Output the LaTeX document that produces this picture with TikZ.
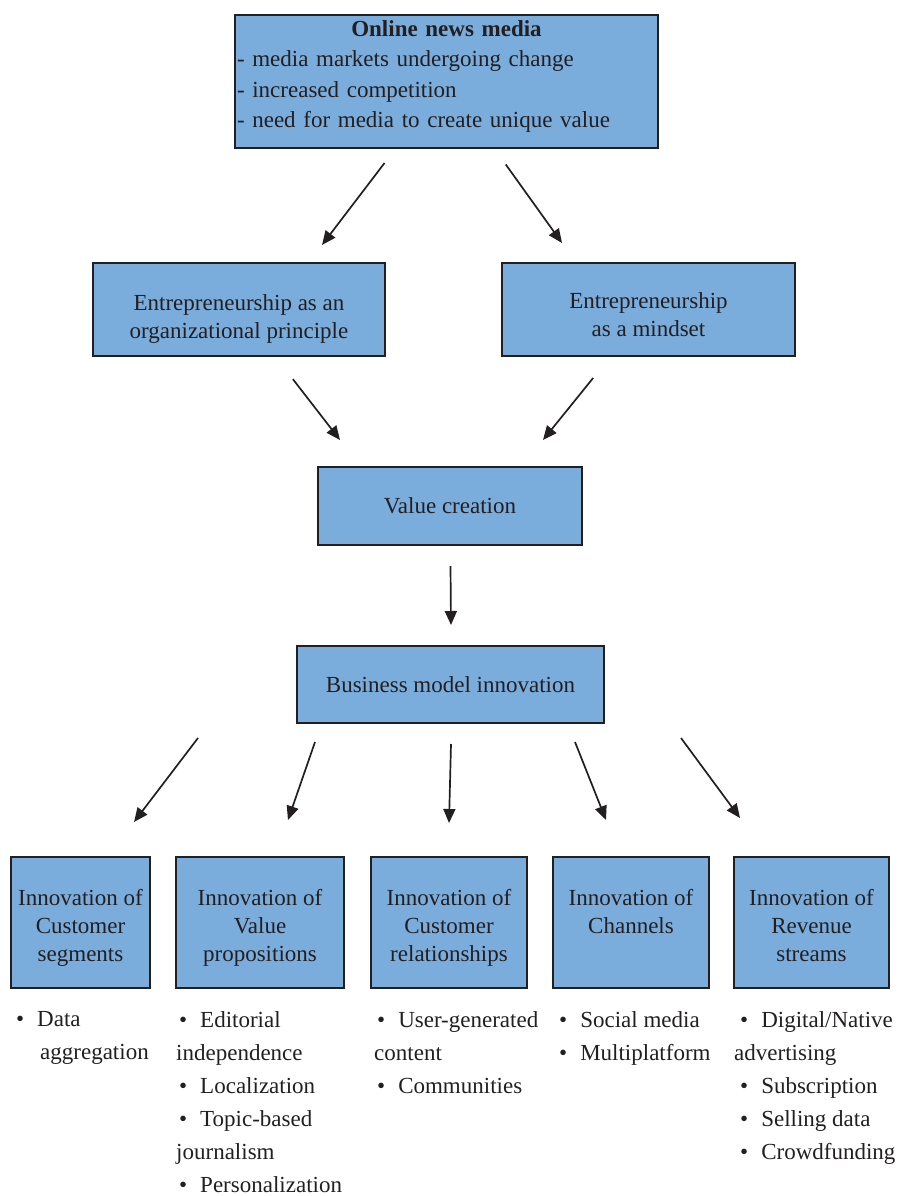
\documentclass[tikz,border=0pt]{standalone}
\usepackage{fontspec}
\setmainfont{Liberation Serif}
\usetikzlibrary{arrows.meta}
\definecolor{boxblue}{RGB}{122,172,220}
\definecolor{ink}{RGB}{35,31,32}
\newcommand{\bul}{\hspace*{3pt}\textbullet\hspace{13pt}}
\newcommand{\lift}[1]{\rule{0pt}{#1}}

\begin{document}
\begin{tikzpicture}[x=1pt,y=-1pt,
    box/.style={draw=ink,line width=2pt,fill=boxblue,text=ink,align=center,
      inner sep=0pt,font=\fontsize{23}{28}\selectfont},
    arr/.style={draw=ink,line width=1.7pt,-{Triangle[length=14pt,width=12pt]}},
    lst/.style={anchor=north west,align=left,inner sep=0pt,text=ink,
      font=\fontsize{23}{33}\selectfont}]
  \useasboundingbox (0,0) rectangle (900,1196);

  \node[box,minimum width=423pt,minimum height=133pt,text width=419pt,align=left,
    font=\fontsize{23}{30.5}\selectfont] (onm) at (446.5,81.5)
    {\hfill\textbf{Online news media}\hfill\null\\- media markets undergoing change\\- increased competition\\- need for media to create unique value\rule[-15pt]{0pt}{15pt}};

  \node[box,minimum width=292pt,minimum height=93pt] (ent1) at (239,309.5)
    {\lift{34pt}Entrepreneurship as an\\organizational principle};
  \node[box,minimum width=293pt,minimum height=93pt] (ent2) at (648.5,309.5)
    {\lift{27pt}Entrepreneurship\\as a mindset};
  \node[box,minimum width=264pt,minimum height=78pt] (vc) at (450,506) {Value creation};
  \node[box,minimum width=307pt,minimum height=77pt] (bmi) at (450.5,684.5) {Business model innovation};

  \node[box,minimum width=139pt,minimum height=131pt] (cs) at (80.5,922.5)
    {\lift{26pt}Innovation of\\Customer\\segments};
  \node[box,minimum width=168pt,minimum height=131pt] (vp) at (260,922.5)
    {\lift{26pt}Innovation of\\Value\\propositions};
  \node[box,minimum width=156pt,minimum height=131pt] (cr) at (449,922.5)
    {\lift{26pt}Innovation of\\Customer\\relationships};
  \node[box,minimum width=156pt,minimum height=131pt] (ch) at (631,922.5)
    {\lift{22pt}Innovation of\\Channels\\~};
  \node[box,minimum width=155pt,minimum height=131pt] (rs) at (811.5,922.5)
    {\lift{22pt}Innovation of\\Revenue\\streams};

  % lists under the boxes
  \node[lst] (lcs) at (13,1011.5) {\bul Data\\\hspace*{27pt}aggregation};
  \node[lst] (lvp) at (176,1011.5)
    {\bul Editorial\\independence\\\bul Localization\\\bul Topic-based\\journalism\\\bul Personalization};
  \node[lst] (lcr) at (374,1011.5) {\bul User-generated\\content\\\bul Communities};
  \node[lst] (lch) at (556,1011.5) {\bul Social media\\\bul Multiplatform};
  \node[lst] (lrs) at (734,1011.5)
    {\hspace*{3pt}\bul Digital/Native\\advertising\\\hspace*{3pt}\bul Subscription\\\hspace*{3pt}\bul Selling data\\\hspace*{3pt}\bul Crowdfunding};

  % arrows
  \coordinate (t1) at (322,245);
  \coordinate (t2) at (562,243);
  \coordinate (t3) at (340,440);
  \coordinate (t4) at (543,440);
  \coordinate (t5) at (451,625);
  \draw[arr,shorten <=17.6pt] (onm) -- (t1);
  \draw[arr,shorten <=19pt] (onm) -- (t2);
  \draw[arr,shorten <=28pt] (ent1) -- (t3);
  \draw[arr,shorten <=27pt] (ent2) -- (t4);
  \draw[arr,shorten <=20pt] (vc) -- (t5);

  \coordinate (s6) at (198,738);  \coordinate (t6) at (134,822);
  \coordinate (s7) at (315,742);  \coordinate (t7) at (288,820);
  \coordinate (s8) at (451,744);  \coordinate (t8) at (449,823);
  \coordinate (s9) at (575,742);  \coordinate (t9) at (606,820);
  \coordinate (s10) at (681,738); \coordinate (t10) at (740,818);
  \draw[arr] (s6) -- (t6);
  \draw[arr] (s7) -- (t7);
  \draw[arr] (s8) -- (t8);
  \draw[arr] (s9) -- (t9);
  \draw[arr] (s10) -- (t10);

\end{tikzpicture}
\end{document}
